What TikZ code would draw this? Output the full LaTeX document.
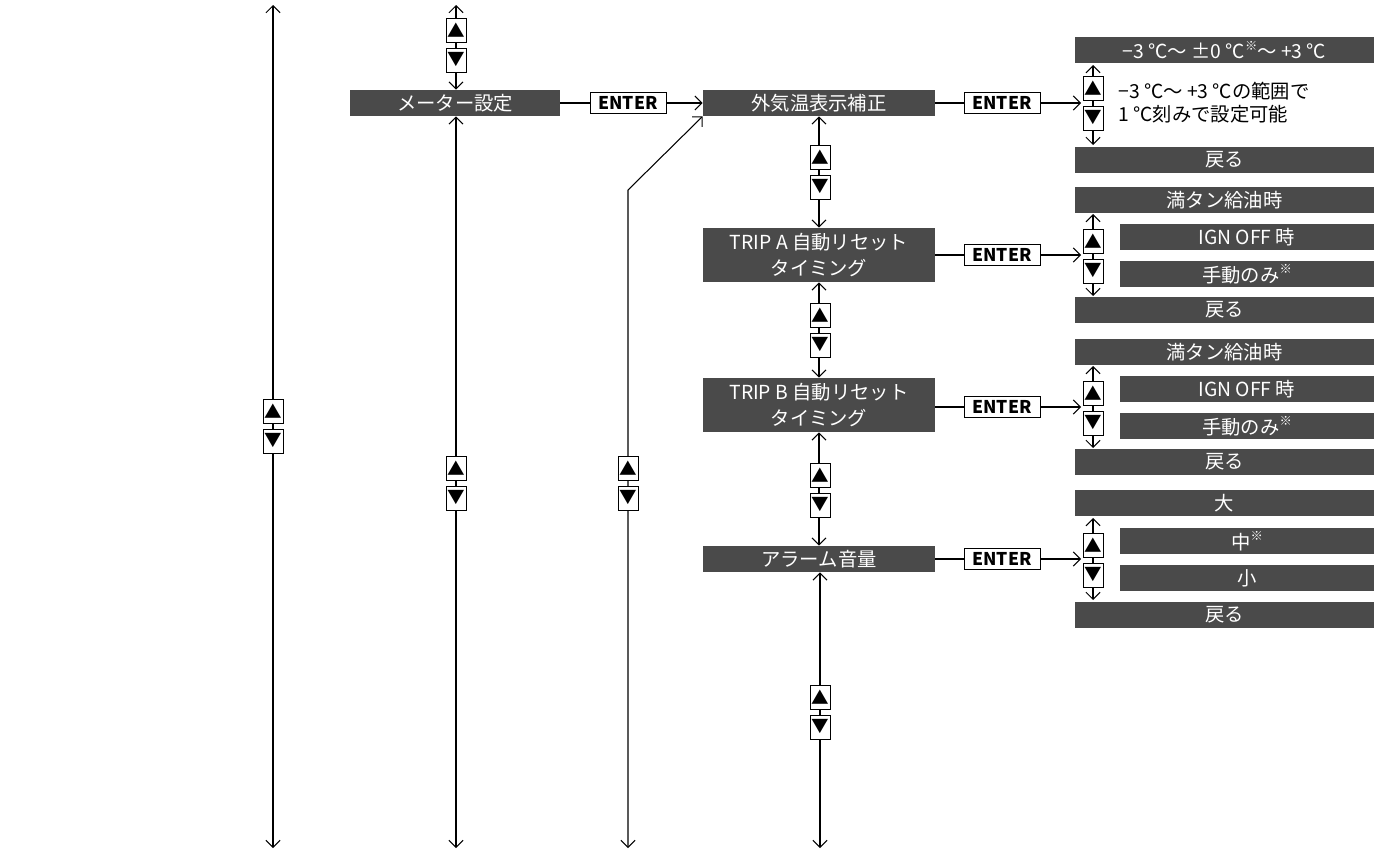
\documentclass[tikz,border=0pt]{standalone}
\usepackage{fontspec}
\setmainfont{Noto Sans CJK JP}
\usetikzlibrary{arrows.meta}
\definecolor{menugray}{HTML}{4A4A4A}
\newcommand\px{0.02cm}
% up/down key pair: x, y of upper key, name prefix
\newcommand\updown[3]{%
  \node[keybox] (#3u) at (#1,#2) {▲};
  \node[keybox] (#3d) at (#1,#2+30) {▼};}
\begin{document}
\begin{tikzpicture}[x=0.02cm,y=-0.02cm,
    menu/.style={fill=menugray,text=white,inner sep=0pt,minimum height=26*\px,
        font=\fontsize{11}{13}\selectfont},
    enterbox/.style={draw,fill=white,inner sep=1pt,minimum height=21*\px,
        minimum width=76*\px,font=\fontsize{10}{12}\selectfont\bfseries},
    keybox/.style={draw,fill=white,inner sep=0pt,minimum width=20*\px,
        minimum height=24*\px,font=\fontsize{10}{12}\selectfont},
    link/.style={semithick,-{Straight Barb[length=4pt,width=8pt]}},
    both/.style={semithick,{Straight Barb[length=4pt,width=8pt]}-{Straight Barb[length=4pt,width=8pt]}}]
    \useasboundingbox (0,0) rectangle (1374,859);

    % main menus
    \node[menu,minimum width=210*\px] (meter) at (455,103) {メーター設定};
    \node[menu,minimum width=232*\px] (temp) at (819,103) {外気温表示補正};
    \node[menu,minimum width=232*\px,minimum height=54*\px,align=center,
        font=\fontsize{11}{15}\selectfont] (tripa) at (819,255) {TRIP A 自動リセット\\タイミング};
    \node[menu,minimum width=232*\px,minimum height=54*\px,align=center,
        font=\fontsize{11}{15}\selectfont] (tripb) at (819,405) {TRIP B 自動リセット\\タイミング};
    \node[menu,minimum width=232*\px] (alarm) at (819,559) {アラーム音量};

    % ENTER keys
    \node[enterbox] (e0) at (628,103) {ENTER};
    \node[enterbox] (e1) at (1002,103) {ENTER};
    \node[enterbox] (e2) at (1002,255) {ENTER};
    \node[enterbox] (e3) at (1002,407) {ENTER};
    \node[enterbox] (e4) at (1002,559) {ENTER};
    \draw[semithick] (meter) -- (e0);
    \draw[link] (e0) -- (temp);
    \foreach \m/\e in {temp/e1,tripa/e2,tripb/e3,alarm/e4}
        \draw[semithick] (\m.east |- \e) -- (\e);

    % temperature setting
    \node[menu,minimum width=299*\px] (t1) at (1224.5,50) {−3 ℃〜 ±0 ℃\raisebox{.45em}{\scriptsize ※}〜 +3 ℃};
    \node[menu,minimum width=299*\px] (t2) at (1224.5,160) {戻る};
    \node[anchor=west,align=left,inner sep=0pt,font=\fontsize{11}{13}\selectfont] (tnote)
        at (1118,103) {−3 ℃〜 +3 ℃の範囲で\\1 ℃刻みで設定可能};
    \coordinate (tt) at (1093,65);
    \coordinate (tb) at (1093,145);
    \draw[both] (tt) -- (tb);
    \updown{1093}{88}{t}
    \draw[link] (e1) -- (1081,103);

    % TRIP A / TRIP B settings
    \foreach \n/\y/\e in {a/0/e2,b/152/e3}{
        \node[menu,minimum width=299*\px] (\n1) at (1224.5,200+\y) {満タン給油時};
        \node[menu,minimum width=254*\px] (\n2) at (1247,237+\y) {IGN OFF 時};
        \node[menu,minimum width=254*\px] (\n3) at (1247,274+\y) {手動のみ\raisebox{.45em}{\scriptsize ※}};
        \node[menu,minimum width=299*\px] (\n4) at (1224.5,310+\y) {戻る};
        \draw[both] (1093,214+\y) -- (1093,296+\y);
        \updown{1093}{241+\y}{k\n}
        \draw[link] (\e) -- (1081,255+\y);
    }

    % alarm settings
    \node[menu,minimum width=299*\px] (c1) at (1224.5,503) {大};
    \node[menu,minimum width=254*\px] (c2) at (1247,541) {中\raisebox{.45em}{\scriptsize ※}};
    \node[menu,minimum width=254*\px] (c3) at (1247,578) {小};
    \node[menu,minimum width=299*\px] (c4) at (1224.5,615) {戻る};
    \draw[both] (1093,518) -- (1093,600);
    \updown{1093}{545}{kc}
    \draw[link] (e4) -- (1081,559);

    % vertical scroll lines
    \coordinate (top0) at (273,5);
    \coordinate (bot0) at (273,848);
    \draw[both] (top0) -- (bot0);
    \updown{273}{411}{l0}
    \coordinate (top1) at (456,5);
    \draw[both] (top1) -- (meter.north -| top1);
    \updown{456}{30}{l1}
    \coordinate (bot1) at (456,848);
    \draw[both] (meter.south -| bot1) -- (bot1);
    \updown{456}{468}{l2}
    \coordinate (bot2) at (628,848);
    \coordinate (bend) at (628,190);
    \draw[both] (bot2) -- (bend) -- (temp.south west);
    \updown{628}{468}{l3}
    \draw[both] (temp) -- (tripa);
    \updown{820}{157}{m1}
    \draw[both] (tripa) -- (tripb);
    \updown{820}{315}{m2}
    \draw[both] (tripb) -- (alarm);
    \updown{820}{475}{m3}
    \coordinate (bot3) at (820,848);
    \draw[both] (alarm.south -| bot3) -- (bot3);
    \updown{820}{697}{m4}
\end{tikzpicture}
\end{document}
